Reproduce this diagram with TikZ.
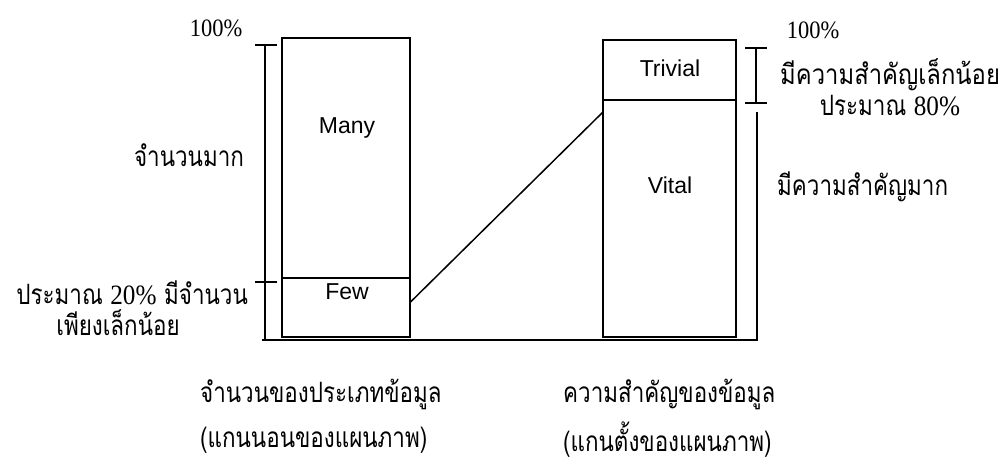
\documentclass[tikz,border=0pt]{standalone}
\usepackage{fontspec}
\setmainfont{Liberation Serif}
\newfontfamily\thai[Script=Thai,FakeStretch=0.8]{Loma}
\newfontfamily\thaiw[Script=Thai,FakeStretch=0.85]{Loma}
\newfontfamily\numf[FakeStretch=0.9]{Liberation Serif}
\newfontfamily\arialf{Liberation Sans}
\begin{document}
\begin{tikzpicture}[x=1pt,y=-1pt,
  box/.style={draw, line width=1.5pt, inner sep=0pt, outer sep=0pt},
  bar/.style={line width=2pt},
  tick/.style={line width=1.5pt},
  lat/.style={font=\arialf\fontsize{23}{23}\selectfont, inner sep=0pt},
  num/.style={font=\numf\fontsize{25}{25}\selectfont, inner sep=0pt},
  th/.style={font=\thai\fontsize{28}{28}\selectfont, inner sep=0pt},
  thw/.style={font=\thaiw\fontsize{28}{28}\selectfont, inner sep=0pt}]
\useasboundingbox (0,0) rectangle (1000,462);
% boxes
\node[box, minimum width=128pt, minimum height=240pt, anchor=north west] (many) at (282,38) {};
\node[box, minimum width=128pt, minimum height=59pt, anchor=north west] (few) at (282,278) {};
\node[box, minimum width=133pt, minimum height=60pt, anchor=north west] (trivial) at (603,40) {};
\node[box, minimum width=133pt, minimum height=237pt, anchor=north west] (vital) at (603,100) {};
\node[lat] (tmany) at (347,128) {Many};
\node[lat] (tfew) at (347,292) {Few};
\node[lat] (ttriv) at (670,68) {Trivial};
\node[lat] (tvital) at (670,185) {Vital};
% connector
\draw[line width=1.5pt] ([yshift=5pt]few.east) -- ([yshift=-12pt]vital.north west);
% baseline and brackets
\coordinate (bl) at (262,340);
\coordinate (br) at (758,340);
\draw[bar] (bl) -- (br);
\coordinate (lt) at (265,45);
\coordinate (lb) at (265,340);
\draw[bar] (lt) -- (lb);
\draw[tick] (255,45) -- (277,45);
\draw[tick] (255,282) -- (277,282);
\coordinate (rt) at (756,48);
\coordinate (rm) at (756,103);
\draw[bar] (rt) -- (rm);
\draw[tick] (745,48) -- (767,48);
\draw[tick] (745,103) -- (767,103);
\coordinate (rl) at (757,112);
\coordinate (rb) at (757,340);
\draw[bar] (rl) -- (rb);
% labels
\node[num] (p100l) at (216,28) {100\%};
\node[num] (p100r) at (813,30) {100\%};
\node[th] (l1) at (189,155) {จำนวนมาก};
\node[th, anchor=east] (l2) at (248,293) {ประมาณ {\numf 20\%} มีจำนวน};
\node[th] (l3) at (118,323) {เพียงเล็กน้อย};
\node[thw, anchor=west] (r1) at (780,75) {มีความสำคัญเล็กน้อย};
\node[th] (r2) at (890,106) {ประมาณ {\numf 80\%}};
\node[th, anchor=west] (r3) at (777,187) {มีความสำคัญมาก};
\node[th, anchor=west] (b1) at (200,394) {จำนวนของประเภทข้อมูล};
\node[th, anchor=west] (b2) at (200,440) {(แกนนอนของแผนภาพ)};
\node[th, anchor=west] (b3) at (563,394) {ความสำคัญของข้อมูล};
\node[th, anchor=west] (b4) at (563,440) {(แกนตั้งของแผนภาพ)};
\end{tikzpicture}
\end{document}
